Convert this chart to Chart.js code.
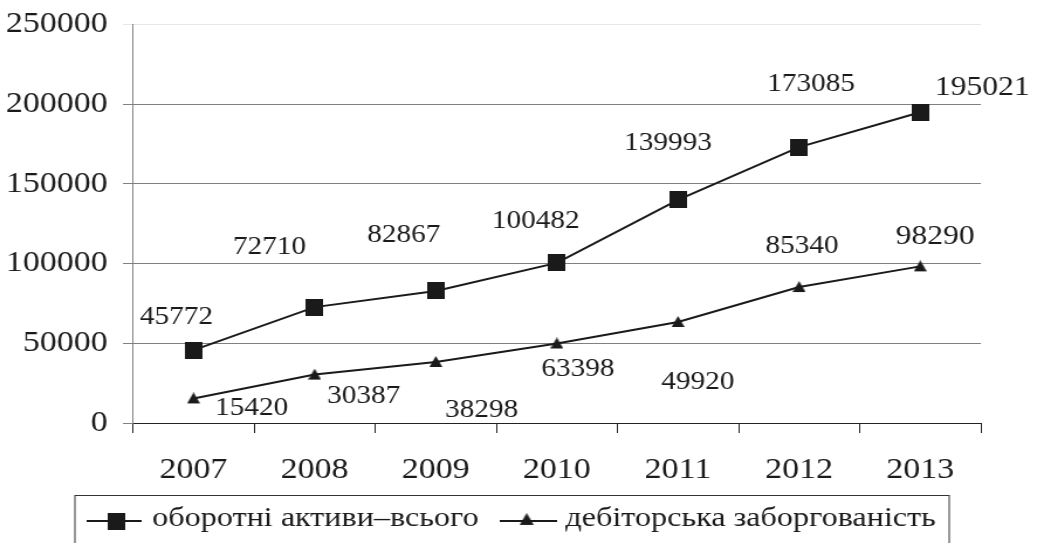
<!DOCTYPE html>
<html>
<head>
<meta charset="utf-8">
<script src="https://cdn.jsdelivr.net/npm/chart.js@4.4.1/dist/chart.umd.min.js"></script>
<style>
  html, body { margin: 0; padding: 0; background: #fff; overflow: hidden; }
  #wrap { width: 1037px; height: 543px; position: relative; overflow: hidden; }
  /* the source figure is stretched sideways, so the canvas is too */
  #myChart { transform-origin: 0 0; transform: scaleX(1.1704); }
</style>
</head>
<body>
<div id="wrap"><canvas id="myChart" width="886" height="543" style="width:886px;height:543px"></canvas></div>
<script>
// chart data
const years = ['2007', '2008', '2009', '2010', '2011', '2012', '2013'];
const currentAssets = [45772, 72710, 82867, 100482, 139993, 173085, 195021];
const receivables = [15420, 30387, 38298, 49920, 63398, 85340, 98290];
// labels as printed in the source (2010 and 2011 swapped there)
const currentAssetsText = ['45772', '72710', '82867', '100482', '139993', '173085', '195021'];
const receivablesText = ['15420', '30387', '38298', '63398', '49920', '85340', '98290'];
const seriesNames = ['оборотні активи–всього', 'дебіторська заборгованість'];
const yTicks = [0, 50000, 100000, 150000, 200000, 250000];

const serif = '"Liberation Serif", "Times New Roman", serif';
const ink = '#1a1a1a';

// markers pre-drawn so they keep their shape after the stretch
function makeSquare() {
  const c = document.createElement('canvas');
  c.width = 15; c.height = 17;
  const g = c.getContext('2d');
  g.fillStyle = ink;
  g.fillRect(0, 0, 15, 17);
  return c;
}
function makeTriangle() {
  const c = document.createElement('canvas');
  c.width = 11; c.height = 12;
  const g = c.getContext('2d');
  g.fillStyle = ink;
  g.beginPath();
  g.moveTo(5.5, 0); g.lineTo(11, 11); g.lineTo(0, 11);
  g.closePath(); g.fill();
  return c;
}
const squareImg = makeSquare();
const triangleImg = makeTriangle();

// value labels next to the points
const valueLabels = {
  id: 'valueLabels',
  afterDatasetsDraw(chart, args, opts) {
    const ctx = chart.ctx;
    ctx.save();
    ctx.fillStyle = ink;
    ctx.textAlign = 'center';
    ctx.textBaseline = 'middle';
    chart.data.datasets.forEach((ds, i) => {
      const meta = chart.getDatasetMeta(i);
      const texts = opts.texts[i];
      const offs = opts.offsets[i];
      meta.data.forEach((pt, j) => {
        const size = j === meta.data.length - 1 ? 27 : 25;
        ctx.font = size + 'px ' + serif;
        ctx.fillText(texts[j], pt.x + offs[j][0], pt.y + offs[j][1]);
      });
    });
    ctx.restore();
  }
};

// boxed legend with line + marker samples
const boxLegend = {
  id: 'boxLegend',
  afterDraw(chart) {
    const ctx = chart.ctx;
    ctx.save();
    ctx.strokeStyle = '#333';
    ctx.lineWidth = 1;
    ctx.strokeRect(64, 495.5, 747, 70);

    const cy = 521;
    ctx.strokeStyle = ink;
    ctx.lineWidth = 2;
    ctx.beginPath(); ctx.moveTo(74, cy); ctx.lineTo(121, cy); ctx.stroke();
    ctx.drawImage(squareImg, 99 - 7.5, cy - 8.5, 15, 17);
    ctx.beginPath(); ctx.moveTo(427, cy); ctx.lineTo(476, cy); ctx.stroke();
    ctx.drawImage(triangleImg, 450 - 6, cy - 8, 12, 13);

    ctx.fillStyle = ink;
    ctx.font = '27.5px ' + serif;
    ctx.textAlign = 'left';
    ctx.textBaseline = 'middle';
    ctx.fillText(seriesNames[0], 130, cy - 2);
    ctx.fillText(seriesNames[1], 483, cy - 2);
    ctx.restore();
  }
};

const ctx = document.getElementById('myChart').getContext('2d');

var myChart = new Chart(ctx, {
  type: 'line',
  data: {
    labels: years,
    datasets: [{
      label: seriesNames[0],
      data: currentAssets,
      borderColor: ink,
      backgroundColor: ink,
      borderWidth: 2,
      pointStyle: squareImg,
      pointRadius: 9,
      tension: 0
    }, {
      label: seriesNames[1],
      data: receivables,
      borderColor: ink,
      backgroundColor: ink,
      borderWidth: 2,
      pointStyle: triangleImg,
      pointRadius: 6,
      tension: 0
    }]
  },
  options: {
    responsive: false,
    animation: false,
    devicePixelRatio: 1,
    layout: { padding: { top: 24, right: 48, bottom: 55, left: 0 } },
    plugins: {
      legend: { display: false },
      tooltip: { enabled: false },
      valueLabels: {
        texts: [currentAssetsText, receivablesText],
        offsets: [
          [[-14.5, -33], [-38.5, -60], [-27.3, -56], [-18, -41], [-8.5, -56], [10.3, -63], [53, -24]],
          [[49.6, 10], [41.9, 22], [39.3, 48], [18, 26], [17, 60], [2.6, -41], [12.8, -29]]
        ]
      }
    },
    scales: {
      x: {
        offset: true,
        grid: {
          offset: true,
          drawOnChartArea: false,
          drawTicks: true,
          tickLength: 10,
          color: '#222'
        },
        border: { color: '#222', width: 1 },
        ticks: {
          padding: 20,
          color: ink,
          font: { family: serif, size: 29 }
        },
        afterFit(scale) { scale.height = 65; }
      },
      y: {
        min: 0,
        max: 250000,
        afterBuildTicks(scale) { scale.ticks = yTicks.map(v => ({ value: v })); },
        grid: {
          tickLength: 8.5,
          color: (c) => (c.tick && c.tick.value === 250000) ? '#e6e6e6' : '#808080'
        },
        border: { color: '#808080', width: 1 },
        ticks: {
          padding: 13,
          color: ink,
          font: { family: serif, size: 29, lineHeight: 0.8 },
          callback: (v) => String(v)
        },
        afterFit(scale) { scale.width = 113.6; }
      }
    }
  },
  plugins: [valueLabels, boxLegend]
});
</script>
</body>
</html>
